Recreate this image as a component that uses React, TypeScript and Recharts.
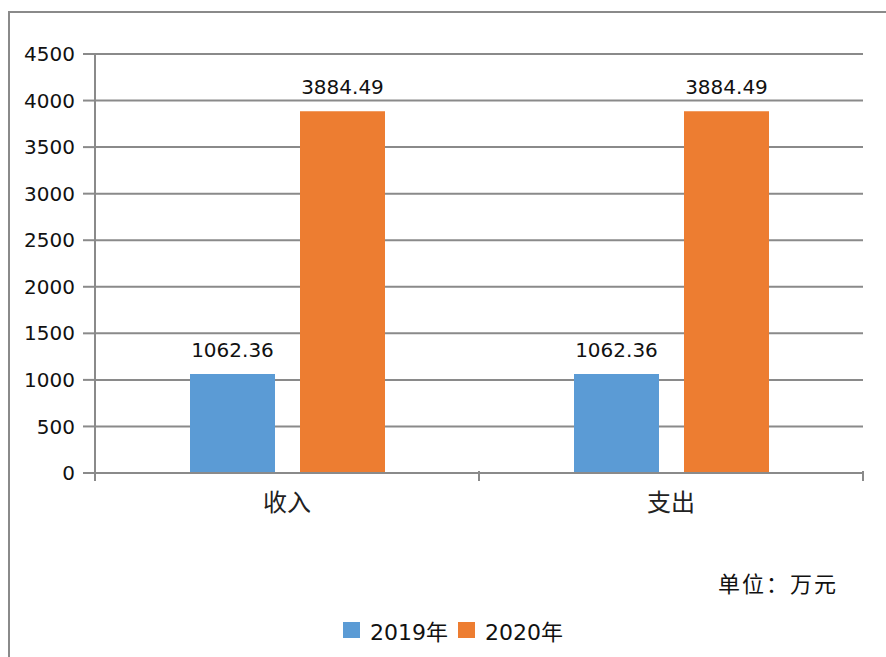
import { Bar, BarChart, CartesianGrid, LabelList, XAxis, YAxis } from "recharts";

const categories = ["收入", "支出"];
const values2019 = [1062.36, 1062.36];
const values2020 = [3884.49, 3884.49];
const yTicks = [0, 500, 1000, 1500, 2000, 2500, 3000, 3500, 4000, 4500];
const seriesNames = ["2019年", "2020年"];
const colors = ["#5B9BD5", "#ED7D31"];

const data = categories.map((name, i) => ({ name, y2019: values2019[i], y2020: values2020[i] }));

const W = 886;
const H = 657;
const M = { top: 54, right: 23, left: 0, bottom: 144 };
const Y_W = 95;
const band = (W - Y_W - M.right) / categories.length;
const GRID = "#8a8a8a";
const NUM_FONT = "'DejaVu Sans', Verdana, sans-serif";
const CJK_FONT = "'Noto Sans CJK SC', sans-serif";

function CatTick(props: any) {
  const { x, y, payload } = props;
  return (
    <g>
      <line x1={x - band / 2} x2={x - band / 2} y1={y - 10} y2={y} stroke={GRID} strokeWidth={2} />
      <line x1={x + band / 2} x2={x + band / 2} y1={y - 10} y2={y} stroke={GRID} strokeWidth={2} />
      <text x={x} y={y + 30} textAnchor="middle" fontSize={24} fontFamily={CJK_FONT} fill="#222">
        {payload.value}
      </text>
    </g>
  );
}

export default function App() {
  return (
    <div style={{ position: "absolute", left: 0, top: 0, width: W, height: H, overflow: "hidden", background: "#fff" }}>
      <div
        style={{
          position: "absolute",
          left: 8,
          top: 11,
          width: 950,
          height: 750,
          border: `2px solid ${GRID}`,
        }}
      />
      <div style={{ position: "absolute", left: 0, top: 0 }}>
        <BarChart width={W} height={H} data={data} margin={M} barGap={25} barSize={85}>
          <CartesianGrid vertical={false} stroke={GRID} strokeWidth={2} />
          <XAxis
            dataKey="name"
            height={40}
            axisLine={{ stroke: GRID, strokeWidth: 2 }}
            tickLine={false}
            tick={<CatTick />}
            interval={0}
          />
          <YAxis
            width={Y_W}
            domain={[0, 4500]}
            ticks={yTicks}
            interval={0}
            axisLine={{ stroke: GRID, strokeWidth: 2 }}
            tickLine={{ stroke: GRID, strokeWidth: 2 }}
            tickSize={12}
            tickMargin={8}
            tick={{ fontSize: 20, fontFamily: NUM_FONT, fill: "#111" }}
          />
          <Bar dataKey="y2019" name={seriesNames[0]} fill={colors[0]} isAnimationActive={false}>
            <LabelList dataKey="y2019" position="top" offset={17} style={{ fontSize: 20, fontFamily: NUM_FONT, fill: "#111" }} />
          </Bar>
          <Bar dataKey="y2020" name={seriesNames[1]} fill={colors[1]} isAnimationActive={false}>
            <LabelList dataKey="y2020" position="top" offset={17} style={{ fontSize: 20, fontFamily: NUM_FONT, fill: "#111" }} />
          </Bar>
        </BarChart>
      </div>
      <div
        style={{
          position: "absolute",
          left: 718,
          top: 566,
          fontSize: 22,
          fontFamily: CJK_FONT,
          color: "#111",
          letterSpacing: 2,
        }}
      >
        单位：万元
      </div>
      <div
        style={{
          position: "absolute",
          left: 343,
          top: 614,
          display: "flex",
          alignItems: "center",
        }}
      >
        {seriesNames.map((s, i) => (
          <div key={s} style={{ display: "flex", alignItems: "center", marginRight: i === 0 ? 10 : 0 }}>
            <span style={{ width: 17, height: 16, background: colors[i], display: "inline-block", marginRight: 10 }} />
            <span style={{ fontSize: 22, fontFamily: NUM_FONT, color: "#111" }}>
              {s.replace("年", "")}
              <span style={{ fontFamily: CJK_FONT }}>年</span>
            </span>
          </div>
        ))}
      </div>
    </div>
  );
}
